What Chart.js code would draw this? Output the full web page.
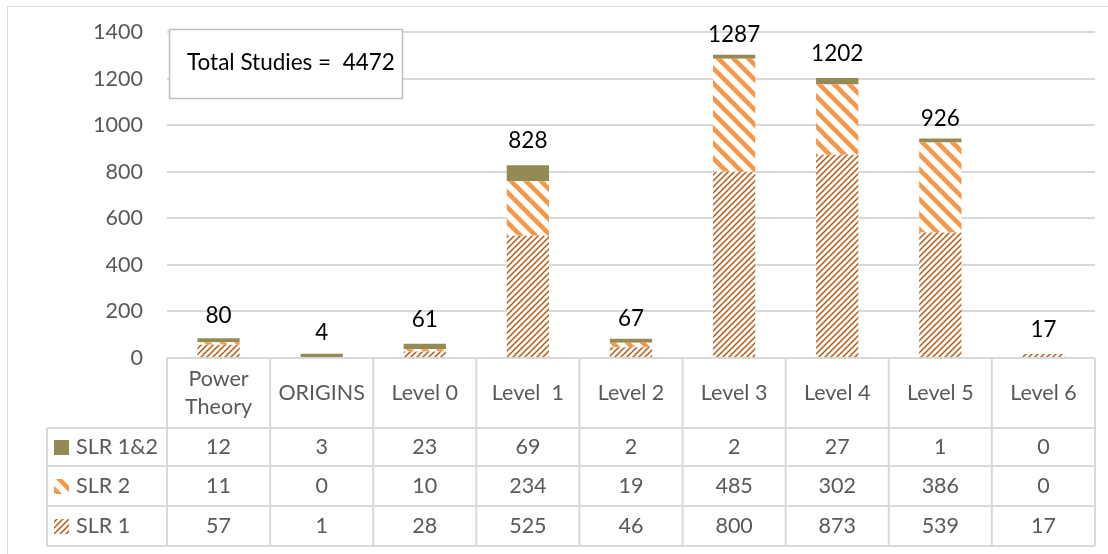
<!DOCTYPE html>
<html>
<head>
<meta charset="utf-8">
<script src="https://cdn.jsdelivr.net/npm/chart.js@4"></script>
<style>
  body { margin: 0; background: #fff; }
  #wrap { width: 1108px; height: 554px; }
</style>
</head>
<body>
<div id="wrap"><canvas id="studyChart" width="1108" height="554"></canvas></div>
<script>
const categories = ['Power\nTheory', 'ORIGINS', 'Level 0', 'Level  1', 'Level 2', 'Level 3', 'Level 4', 'Level 5', 'Level 6'];
const slr1 = [57, 1, 28, 525, 46, 800, 873, 539, 17];
const slr2 = [11, 0, 10, 234, 19, 485, 302, 386, 0];
const slr12 = [12, 3, 23, 69, 2, 2, 27, 1, 0];
const yTicks = [0, 200, 400, 600, 800, 1000, 1200, 1400];
const totalLabel = 'Total Studies =  4472';

const FONT = 'Lato, "Open Sans", sans-serif';
const GRID = '#d9d9d9';
const TXT = 21.5;

// patterns like the excel fills
function makeStripes() {
  const c = document.createElement('canvas');
  c.width = 15; c.height = 15;
  const g = c.getContext('2d');
  g.fillStyle = '#fff';
  g.fillRect(0, 0, 15, 15);
  g.strokeStyle = '#F79646';
  g.lineWidth = 4.5;
  for (let o = -15; o <= 15; o += 15) {
    g.beginPath();
    g.moveTo(o - 2, -2);
    g.lineTo(o + 17, 17);
    g.stroke();
  }
  return g.createPattern(c, 'repeat');
}

function makeHatch() {
  const c = document.createElement('canvas');
  c.width = 6; c.height = 6;
  const g = c.getContext('2d');
  g.fillStyle = '#fff';
  g.fillRect(0, 0, 6, 6);
  g.strokeStyle = '#B8560F';
  g.lineWidth = 1.5;
  for (let o = -6; o <= 6; o += 6) {
    g.beginPath();
    g.moveTo(o - 1, 7);
    g.lineTo(o + 7, -1);
    g.stroke();
  }
  return g.createPattern(c, 'repeat');
}

const stripeFill = makeStripes();
const hatchFill = makeHatch();
const oliveFill = '#948A54';

const series = [
  { name: 'SLR 1&2', fill: oliveFill },
  { name: 'SLR 2', fill: stripeFill },
  { name: 'SLR 1', fill: hatchFill }
];
const seriesData = [slr12, slr2, slr1];

const tablePlugin = {
  id: 'tablePlugin',
  afterDatasetsDraw(chart) {
    const ctx = chart.ctx;
    const area = chart.chartArea;
    const x = chart.scales.x;
    const colW = area.width / categories.length;
    const headTop = area.bottom;
    const rowTops = [headTop + 70, headTop + 108, headTop + 148];
    const rowH = 40;
    const tableBottom = rowTops[2] + rowH;
    const legLeft = 47;

    ctx.save();
    // outer frame lines
    ctx.strokeStyle = GRID;
    ctx.lineWidth = 1;
    ctx.beginPath();
    ctx.moveTo(7.5, 554); ctx.lineTo(7.5, 6.5); ctx.lineTo(1108, 6.5);
    ctx.stroke();

    // table grid
    ctx.lineWidth = 2;
    ctx.beginPath();
    ctx.moveTo(area.left, headTop); ctx.lineTo(area.right, headTop);
    rowTops.forEach(t => { ctx.moveTo(legLeft, t); ctx.lineTo(area.right, t); });
    ctx.moveTo(legLeft, tableBottom); ctx.lineTo(area.right, tableBottom);
    ctx.moveTo(legLeft, rowTops[0]); ctx.lineTo(legLeft, tableBottom);
    for (let i = 0; i <= categories.length; i++) {
      const xx = area.left + i * colW;
      ctx.moveTo(xx, headTop); ctx.lineTo(xx, tableBottom);
    }
    ctx.stroke();

    // header labels
    ctx.fillStyle = '#595959';
    ctx.font = TXT + 'px ' + FONT;
    ctx.textAlign = 'center';
    ctx.textBaseline = 'middle';
    categories.forEach((c, i) => {
      const cx = x.getPixelForValue(i);
      const lines = c.split('\n');
      const mid = headTop + 35;
      lines.forEach((ln, k) => {
        ctx.fillText(ln, cx, mid + (k - (lines.length - 1) / 2) * 28);
      });
    });

    // value rows + legend keys
    series.forEach((s, r) => {
      const cy = rowTops[r] + rowH / 2 + (r === 0 ? -1 : 0);
      ctx.fillStyle = s.fill;
      ctx.fillRect(54, cy - 7, 15, 15);
      ctx.fillStyle = '#595959';
      ctx.textAlign = 'left';
      ctx.fillText(s.name, 76, cy);
      ctx.textAlign = 'center';
      seriesData[r].forEach((v, i) => {
        ctx.fillText(String(v), x.getPixelForValue(i), cy);
      });
    });

    // totals above the stacks
    const y = chart.scales.y;
    ctx.fillStyle = '#000';
    ctx.font = '22.5px ' + FONT;
    categories.forEach((c, i) => {
      const total = slr1[i] + slr2[i] + slr12[i];
      ctx.fillText(String(total), x.getPixelForValue(i), y.getPixelForValue(total) - 24);
    });

    // text box
    ctx.fillStyle = '#fff';
    ctx.fillRect(169, 29, 233, 69);
    ctx.strokeStyle = '#bfbfbf';
    ctx.lineWidth = 1.5;
    ctx.strokeRect(169.5, 29.5, 233, 69);
    ctx.fillStyle = '#000';
    ctx.textAlign = 'left';
    ctx.font = '22.5px ' + FONT;
    ctx.fillText(totalLabel, 187, 63);
    ctx.restore();
  }
};

new Chart(document.getElementById('studyChart'), {
  type: 'bar',
  data: {
    labels: categories,
    datasets: [
      { label: 'SLR 1', data: slr1.map(v => v || null), backgroundColor: hatchFill },
      { label: 'SLR 2', data: slr2.map(v => v || null), backgroundColor: stripeFill },
      { label: 'SLR 1&2', data: slr12.map(v => v || null), backgroundColor: oliveFill, minBarLength: 4 }
    ]
  },
  options: {
    responsive: false,
    animation: false,
    layout: { padding: { top: 32, right: 13, bottom: 196, left: 0 } },
    datasets: { bar: { barPercentage: 0.41, categoryPercentage: 1 } },
    plugins: { legend: { display: false }, tooltip: { enabled: false } },
    scales: {
      x: { stacked: true, display: false },
      y: {
        stacked: true,
        min: 0,
        max: 1400,
        afterBuildTicks: axis => { axis.ticks = yTicks.map(v => ({ value: v })); },
        afterFit: axis => { axis.width = 167; axis.paddingTop = 0; axis.paddingBottom = 0; },
        border: { display: false },
        grid: { color: GRID, lineWidth: 2, drawTicks: false },
        ticks: { color: '#595959', font: { family: FONT, size: TXT }, padding: 24, callback: v => String(v) }
      }
    }
  },
  plugins: [tablePlugin]
});
</script>
</body>
</html>
